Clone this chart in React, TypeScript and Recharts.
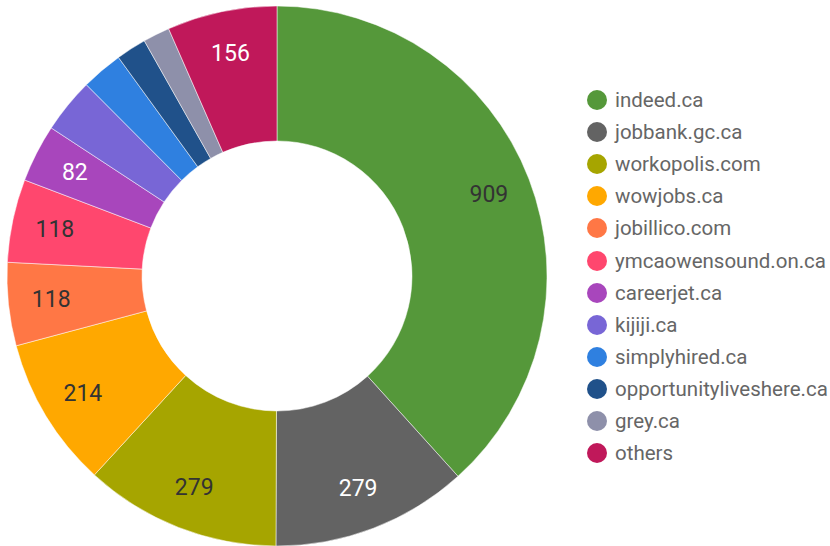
import React from 'react';
import { PieChart, Pie, Cell, Legend } from 'recharts';

const sites = [
  'indeed.ca', 'jobbank.gc.ca', 'workopolis.com', 'wowjobs.ca', 'jobillico.com',
  'ymcaowensound.on.ca', 'careerjet.ca', 'kijiji.ca', 'simplyhired.ca',
  'opportunityliveshere.ca', 'grey.ca', 'others',
];
const counts = [909, 279, 279, 214, 118, 118, 82, 78, 59, 43, 38, 156];
const colors = [
  '#55983A', '#636363', '#A6A500', '#FFA800', '#FF7745', '#FF476E',
  '#A846BC', '#7866D6', '#2F80E0', '#20518A', '#8E90AA', '#C0185A',
];
const labelColors = ['#333', '#fff', '#333', '#333', '#333', '#333', '#fff', '#fff', '#fff', '#fff', '#fff', '#fff'];

const data = sites.map((name, i) => ({ name, value: counts[i] }));
const RADIAN = Math.PI / 180;

const renderLabel = (p: any) => {
  if (p.value < 80) return null;
  const r = 227;
  const x = p.cx + r * Math.cos(-p.midAngle * RADIAN);
  const y = p.cy + r * Math.sin(-p.midAngle * RADIAN);
  return (
    <text x={x} y={y} fill={labelColors[p.index]} textAnchor="middle" dominantBaseline="central"
      fontSize={23} fontFamily="Roboto">
      {p.value}
    </text>
  );
};

const renderLegend = () => (
  <div style={{ fontFamily: 'Roboto', fontSize: 20.5, color: '#666' }}>
    {sites.map((s, i) => (
      <div key={s} style={{ display: 'flex', alignItems: 'center', height: 32.1 }}>
        <span style={{ width: 20, height: 20, borderRadius: 10, background: colors[i], marginRight: 8, flex: 'none' }} />
        <span style={{ whiteSpace: 'nowrap' }}>{s}</span>
      </div>
    ))}
  </div>
);

export default function App() {
  return (
    <div style={{ position: 'absolute', left: 0, top: 0, background: '#fff' }}>
      <PieChart width={830} height={546} margin={{ top: 0, right: 0, bottom: 0, left: 0 }}>
        <Pie data={data} dataKey="value" nameKey="name" cx={277} cy={276}
          innerRadius={135} outerRadius={270} startAngle={90} endAngle={-270}
          stroke="#fff" strokeWidth={0.5} label={renderLabel} labelLine={false}
          isAnimationActive={false}>
          {data.map((d, i) => <Cell key={d.name} fill={colors[i]} />)}
        </Pie>
        <Legend content={renderLegend} wrapperStyle={{ position: 'absolute', left: 587, top: 84, width: 243 }} />
      </PieChart>
    </div>
  );
}
